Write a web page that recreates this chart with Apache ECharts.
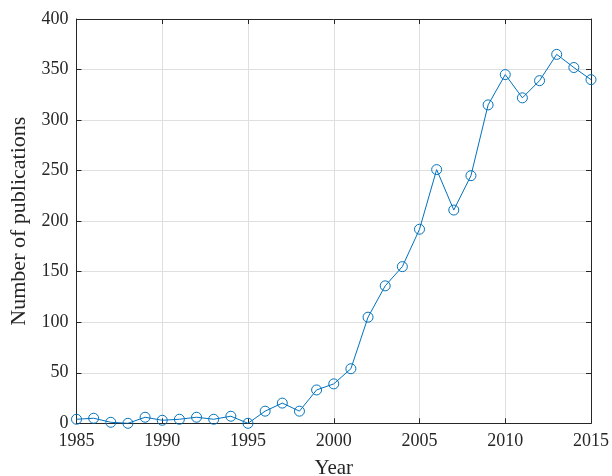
<!DOCTYPE html>
<html><head><meta charset="utf-8">
<script src="https://cdn.jsdelivr.net/npm/echarts@6/dist/echarts.min.js"></script>
<style>html,body{margin:0;padding:0;background:#fff}#c{width:612px;height:476px}</style>
</head><body><div id="c"></div>
<script>
const years = [1985,1986,1987,1988,1989,1990,1991,1992,1993,1994,1995,1996,1997,1998,1999,2000,2001,2002,2003,2004,2005,2006,2007,2008,2009,2010,2011,2012,2013,2014,2015];
const publications = [4,5,1,0,6,3,4,6,4,7,0,12,20,12,33,39,54,105,136,155,192,251,211,245,315,345,322,339,365,352,340];
const xTicks = [1985,1990,1995,2000,2005,2010,2015];
const yTicks = [0,50,100,150,200,250,300,350,400];

const font = '"Liberation Serif", "DejaVu Serif", serif';
const axisCol = '#262626';
const chart = echarts.init(document.getElementById('c'), null, {renderer:'canvas'});
const common = {
  axisLine:{show:true, onZero:false, lineStyle:{color:axisCol, width:1}},
  axisTick:{show:true, inside:true, length:5, lineStyle:{color:axisCol}},
};
chart.setOption({
  animation:false,
  grid:{left:76.5, right:21, top:19, bottom:52.7, containLabel:false, outerBoundsMode:'none'},
  xAxis:[{
    type:'value', min:1985, max:2015, interval:5, position:'bottom',
    ...common,
    splitLine:{show:true, lineStyle:{color:'#dfdfdf', width:1}},
    axisLabel:{color:axisCol, fontFamily:font, fontSize:18, margin:9, formatter:v=>String(v)},
    name:'Year', nameLocation:'middle', nameGap:35,
    nameTextStyle:{color:axisCol, fontFamily:font, fontSize:21}
  },{
    type:'value', min:1985, max:2015, interval:5, position:'top',
    ...common, splitLine:{show:false}, axisLabel:{show:false}
  }],
  yAxis:[{
    type:'value', min:0, max:400, interval:50, position:'left',
    ...common,
    splitLine:{show:true, lineStyle:{color:'#dfdfdf', width:1}},
    axisLabel:{color:axisCol, fontFamily:font, fontSize:18, margin:8},
    name:'Number of publications', nameLocation:'middle', nameGap:40, nameRotate:90,
    nameTextStyle:{color:axisCol, fontFamily:font, fontSize:22}
  },{
    type:'value', min:0, max:400, interval:50, position:'right',
    ...common, splitLine:{show:false}, axisLabel:{show:false}
  }],
  series:[{
    type:'line', data: years.map((y,i)=>[y, publications[i]]),
    xAxisIndex:0, yAxisIndex:0,
    symbol:'circle', symbolSize:10, showAllSymbol:true,
    lineStyle:{color:'#0072BD', width:1},
    itemStyle:{color:'rgba(255,255,255,0)', borderColor:'#0072BD', borderWidth:1},
    emphasis:{disabled:true}
  }]
});
</script></body></html>
